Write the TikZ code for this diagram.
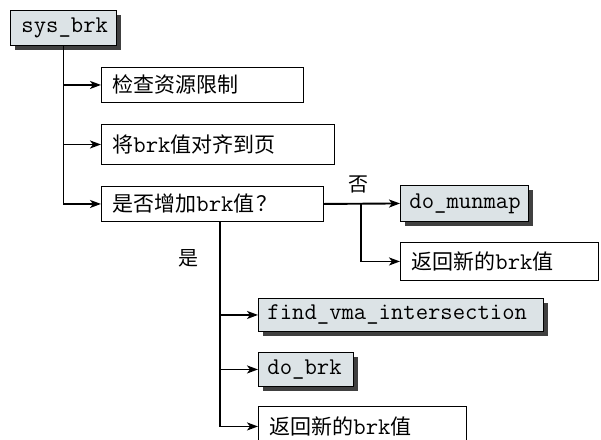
\documentclass[tikz,border=0pt]{standalone}
\usepackage{fontspec}
\newfontfamily\cjk{Noto Sans CJK SC}
\usetikzlibrary{arrows.meta,shadows}
\definecolor{boxfill}{HTML}{DCE3E6}
\newcommand{\mono}{\fontsize{24}{26}\selectfont\ttfamily}
\begin{document}
\begin{tikzpicture}[x=1pt,y=-1pt,
  every node/.style={font=\fontsize{21}{25}\selectfont},
  wbox/.style={draw=black, line width=0.9pt, fill=white, anchor=north west,
    inner xsep=11pt, inner ysep=0pt, align=left},
  gbox/.style={wbox, fill=boxfill, drop shadow={shadow xshift=5pt, shadow yshift=-5pt, fill=black!75, opacity=1}},
  conn/.style={line width=1.9pt, -{Stealth[length=11pt,width=8pt,inset=3pt]}},
  lab/.style={font=\fontsize{20}{24}\selectfont\cjk, inner sep=0pt}
]
\useasboundingbox (0,0) rectangle (601,439);
\begin{scope}
\clip (0,0) rectangle (601,439);
% nodes
\node[gbox, minimum width=106pt, minimum height=35pt, text width=84pt, align=center] (sys) at (10,10) {\mono sys\_brk};
\node[wbox, minimum width=202pt, minimum height=35pt, text width=180pt] (b1) at (101,67) {\cjk 检查资源限制};
\node[wbox, minimum width=233pt, minimum height=40pt, text width=211pt] (b2) at (101,124) {\cjk 将{\mono brk}值对齐到页};
\node[wbox, minimum width=222pt, minimum height=35pt, text width=200pt] (b3) at (101,186) {\cjk 是否增加{\mono brk}值\kern2pt？};
\node[gbox, minimum width=128pt, minimum height=36pt, text width=110pt, inner xsep=9pt] (mun) at (400,185) {\mono do\_munmap};
\node[wbox, minimum width=198pt, minimum height=38pt, text width=176pt] (r1) at (400,242) {\cjk 返回新的{\mono brk}值};
\node[gbox, minimum width=285pt, minimum height=33pt, text width=267pt, inner xsep=9pt] (fv) at (258,298) {\mono find\_vma\_intersection};
\node[gbox, minimum width=95pt, minimum height=34pt, text width=77pt, inner xsep=9pt] (db) at (258,352) {\mono do\_brk};
\node[wbox, minimum width=208pt, minimum height=40pt, text width=186pt] (r2) at (258,406) {\cjk 返回新的{\mono brk}值};
% labels
\node[lab] (no) at (358,184) {否};
\node[lab] (yes) at (188,258) {是};
% connectors
\coordinate (top) at (sys.south);
\draw[conn] (top) |- (b1.west);
\draw[conn] (top) |- (b2.west);
\draw[conn] (top) |- (b3.west);
\draw[conn] (b3.east) -- (mun.west);
\coordinate (br) at (361,0 |- b3.east);
\draw[conn] (br) |- (r1.west);
\coordinate (dn) at (220,0 |- b3.south);
\draw[conn] (dn) |- (fv.west);
\draw[conn] (dn) |- (db.west);
\draw[conn] (dn) |- (r2.west);
\end{scope}
\end{tikzpicture}
\end{document}
